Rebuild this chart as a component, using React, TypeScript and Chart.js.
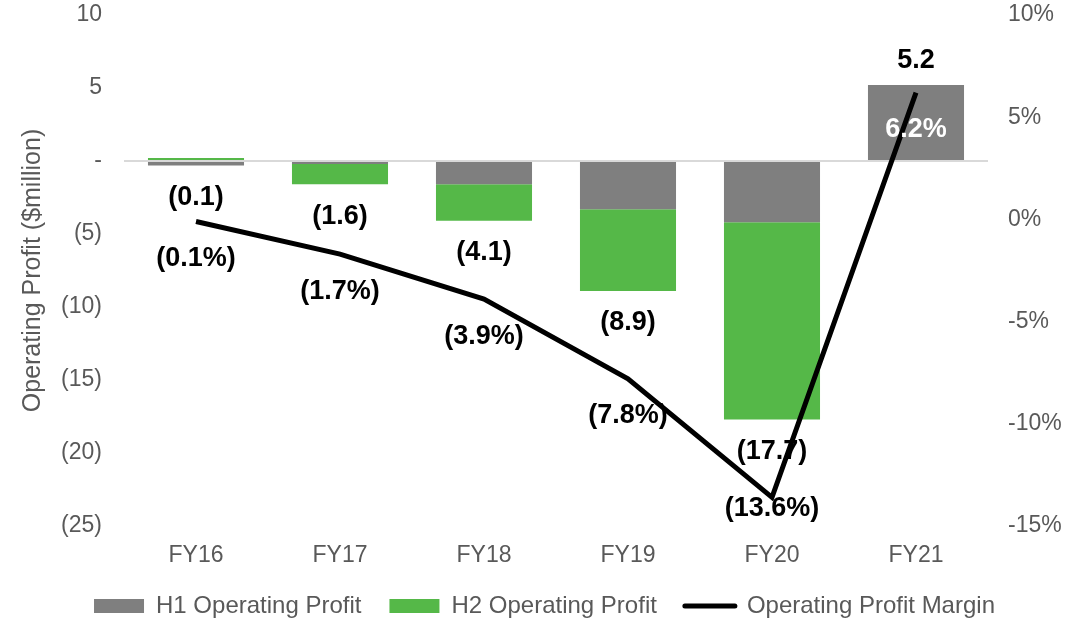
import React, { useEffect, useRef } from "react";
import { Chart, registerables } from "chart.js";

Chart.register(...registerables);

const categories = ["FY16", "FY17", "FY18", "FY19", "FY20", "FY21"];
const h1Profit = [-0.3, -0.2, -1.6, -3.3, -4.2, 5.2];
const h2Profit = [0.2, -1.4, -2.5, -5.6, -13.5, 0];
const profitMargin = [-0.1, -1.7, -3.9, -7.8, -13.6, 6.2];

const seriesNames = ["H1 Operating Profit", "H2 Operating Profit", "Operating Profit Margin"];
const leftTicks = { min: -25, max: 10, step: 5 };
const rightTicks = { min: -15, max: 10, step: 5 };

const GRAY = "#7f7f7f";
const GREEN = "#55b848";
const TEXT = "#595959";
const FONT = "'Liberation Sans', Arial, sans-serif";
const CLEAR = "rgba(0,0,0,0)";

const fmtNum = (v: number) => {
  const r = Math.round(v * 10) / 10;
  if (r < 0) return `(${Math.abs(r).toFixed(1)})`;
  return r.toFixed(1);
};
const fmtPct = (v: number) => (v < 0 ? `(${Math.abs(v).toFixed(1)}%)` : `${v.toFixed(1)}%`);

const labelPlugin = {
  id: "valueLabels",
  afterDatasetsDraw(chart: any) {
    const { ctx, chartArea } = chart;
    const yScale = chart.scales.y;
    const m0 = chart.getDatasetMeta(0);
    const m1 = chart.getDatasetMeta(1);
    const m2 = chart.getDatasetMeta(2);
    ctx.save();
    ctx.font = `bold 27px ${FONT}`;
    ctx.textAlign = "center";
    ctx.textBaseline = "middle";
    categories.forEach((_, i) => {
      const a = h1Profit[i];
      const b = h2Profit[i];
      const total = a + b;
      const neg = (a < 0 ? a : 0) + (b < 0 ? b : 0);
      const pos = (a > 0 ? a : 0) + (b > 0 ? b : 0);
      const x = m0.data[i].x;
      let y;
      if (total < 0) y = yScale.getPixelForValue(neg) + 32;
      else y = yScale.getPixelForValue(pos) - 25;
      ctx.fillStyle = "#000";
      ctx.fillText(fmtNum(total), x, y);
    });
    categories.forEach((_, i) => {
      const pt = m2.data[i];
      const x = pt.x;
      const y = Math.min(pt.y + 37, chartArea.bottom - 17);
      let inside = false;
      [m0, m1].forEach((m) => {
        const bar = m.data[i];
        const top = Math.min(bar.y, bar.base);
        const bot = Math.max(bar.y, bar.base);
        if (bot - top > 2 && y > top && y < bot && Math.abs(x - bar.x) < bar.width / 2) inside = true;
      });
      ctx.fillStyle = inside ? "#ffffff" : "#000";
      ctx.fillText(fmtPct(profitMargin[i]), x, y);
    });
    ctx.restore();
  },
};

export default function App() {
  const ref = useRef<HTMLCanvasElement | null>(null);
  useEffect(() => {
    if (!ref.current) return;
    Chart.defaults.font.family = FONT;
    const chart = new Chart(ref.current, {
      type: "bar",
      data: {
        labels: categories,
        datasets: [
          {
            type: "bar",
            label: seriesNames[0],
            data: h1Profit,
            backgroundColor: GRAY,
            yAxisID: "y",
            stack: "s",
            order: 1,
            categoryPercentage: 0.667,
            barPercentage: 1,
          },
          {
            type: "bar",
            label: seriesNames[1],
            data: h2Profit,
            backgroundColor: GREEN,
            yAxisID: "y",
            stack: "s",
            order: 1,
            categoryPercentage: 0.667,
            barPercentage: 1,
          },
          {
            type: "line",
            label: seriesNames[2],
            data: profitMargin,
            borderColor: "#000",
            backgroundColor: "#000",
            borderWidth: 5,
            pointRadius: 0,
            tension: 0,
            yAxisID: "y1",
            order: 0,
          } as any,
        ],
      },
      options: {
        responsive: false,
        animation: false,
        layout: { padding: { top: 15, left: 0, right: 0, bottom: -9 } },
        plugins: {
          tooltip: { enabled: false },
          legend: {
            position: "bottom",
            labels: {
              usePointStyle: true,
              pointStyleWidth: 50,
              boxHeight: 14,
              padding: 28,
              color: TEXT,
              font: { size: 24, family: FONT },
              sort: (a: any, b: any) => a.datasetIndex - b.datasetIndex,
              generateLabels: (chart: any) =>
                chart.data.datasets.map((ds: any, i: number) => ({
                  text: ds.label,
                  datasetIndex: i,
                  fillStyle: ds.type === "line" ? "#000" : ds.backgroundColor,
                  strokeStyle: ds.type === "line" ? "#000" : ds.backgroundColor,
                  lineWidth: ds.type === "line" ? 5 : 0,
                  lineCap: "round",
                  pointStyle: ds.type === "line" ? "line" : "rect",
                  fontColor: TEXT,
                  hidden: false,
                })),
            },
          },
        },
        scales: {
          x: {
            stacked: true,
            grid: { display: false, drawTicks: false },
            border: { display: false },
            ticks: { color: TEXT, font: { size: 23 }, padding: 16 },
            afterFit: (axis: any) => {
              axis.height = 40;
            },
          },
          y: {
            stacked: true,
            position: "left",
            min: leftTicks.min,
            max: leftTicks.max,
            border: { display: false },
            grid: {
              display: true,
              drawTicks: true,
              tickLength: 22,
              tickColor: CLEAR,
              color: (c: any) => (c.tick && c.tick.value === 0 ? "#d9d9d9" : CLEAR),
              lineWidth: 2,
            },
            ticks: {
              stepSize: leftTicks.step,
              color: TEXT,
              font: { size: 23 },
              padding: 0,
              callback: (v: any) => (v === 0 ? "-" : v < 0 ? `(${-v})` : `${v}`),
            },
            title: {
              display: true,
              text: "Operating Profit ($million)",
              color: TEXT,
              font: { size: 25 },
              padding: { top: 18, bottom: 0 },
            },
            afterFit: (axis: any) => {
              axis.width = 124;
            },
          },
          y1: {
            position: "right",
            min: rightTicks.min,
            max: rightTicks.max,
            border: { display: false },
            grid: {
              display: true,
              drawOnChartArea: false,
              drawTicks: true,
              tickLength: 20,
              tickColor: CLEAR,
              color: CLEAR,
            },
            ticks: {
              stepSize: rightTicks.step,
              color: TEXT,
              font: { size: 23 },
              padding: 0,
              callback: (v: any) => `${v}%`,
            },
            afterFit: (axis: any) => {
              axis.width = 101;
            },
          },
        },
      },
      plugins: [labelPlugin],
    });
    return () => chart.destroy();
  }, []);
  return (
    <div style={{ position: "fixed", left: 0, top: 0, width: 1089, height: 619, background: "#fff" }}>
      <canvas ref={ref} width={1089} height={619} style={{ display: "block" }} />
    </div>
  );
}
